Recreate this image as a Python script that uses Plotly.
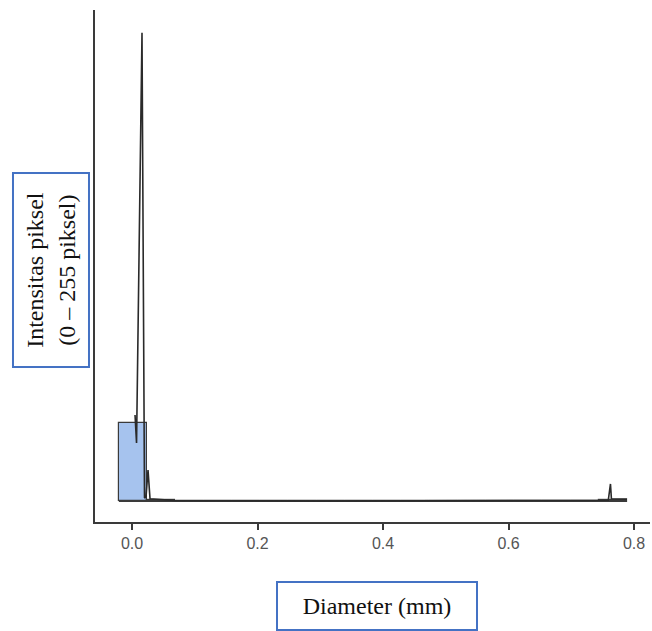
import plotly.graph_objects as go

# Histogram of pore diameters (density scale), bins of 0.045 mm
bin_edges = [-0.021 + 0.045 * i for i in range(19)]
bin_density = [21.5, 0.3, 0, 0, 0, 0, 0, 0, 0, 0, 0, 0, 0, 0, 0, 0, 0, 0.3]

# Kernel density curve of the same sample
dens_x = [0.0048, 0.0072, 0.0159, 0.0199, 0.0223, 0.0255, 0.0287, 0.0685,
          0.300, 0.600, 0.759, 0.7625, 0.7640, 0.789]
dens_y = [23.7, 16.0, 129.0, 0.8, 1.1, 8.5, 0.6, 0.15,
          0.0, 0.0, 0.2, 4.7, 0.6, 0.5]

x_ticks = [0.0, 0.2, 0.4, 0.6, 0.8]
x_tick_text = ["0.0", "0.2", "0.4", "0.6", "0.8"]

centers = [(bin_edges[i] + bin_edges[i + 1]) / 2 for i in range(len(bin_density))]
widths = [bin_edges[i + 1] - bin_edges[i] for i in range(len(bin_density))]

fig = go.Figure()
fig.add_trace(go.Bar(
    x=centers, y=bin_density, width=widths,
    marker=dict(color="#a6c3ee", line=dict(color="#3a3a3a", width=1.2)),
    hoverinfo="skip",
))
# outline of the empty bins along the baseline
fig.add_trace(go.Scatter(
    x=[bin_edges[0], bin_edges[-1]], y=[0, 0], mode="lines",
    line=dict(color="#3a3a3a", width=2), hoverinfo="skip",
))
fig.add_trace(go.Scatter(
    x=dens_x, y=dens_y, mode="lines",
    line=dict(color="#2a2a2a", width=1.6), hoverinfo="skip",
))

fig.update_layout(
    width=652, height=631,
    margin=dict(l=95, r=2, t=10, b=109),
    paper_bgcolor="white", plot_bgcolor="white",
    showlegend=False, bargap=0,
    xaxis=dict(
        range=[-0.059, 0.8255], tickvals=x_ticks, ticktext=x_tick_text,
        showgrid=False, zeroline=False, showline=True,
        linecolor="#3a3a3a", linewidth=1.6,
        ticks="outside", ticklen=6, tickwidth=1.6, tickcolor="#3a3a3a",
        tickfont=dict(family="Liberation Sans, Arial", size=16, color="#555555"),
    ),
    yaxis=dict(
        range=[-5.79, 135.3], showticklabels=False, ticks="",
        showgrid=False, zeroline=False, showline=True,
        linecolor="#3a3a3a", linewidth=1.6,
    ),
    annotations=[
        dict(
            text="Intensitas piksel<br>(0 – 255 piksel)",
            xref="paper", yref="paper",
            x=(51 - 95) / 555, y=(521 - 269.5) / 511,
            xanchor="center", yanchor="middle", textangle=-90,
            showarrow=False, width=190, height=72,
            font=dict(family="Liberation Serif, Times New Roman", size=24, color="#111111"),
            bordercolor="#4472c4", borderwidth=2, borderpad=1,
            bgcolor="white",
        ),
        dict(
            text="Diameter (mm)",
            xref="paper", yref="paper",
            x=(376.5 - 95) / 555, y=(521 - 604.5) / 511,
            xanchor="center", yanchor="middle",
            showarrow=False, width=196, height=44,
            font=dict(family="Liberation Serif, Times New Roman", size=24, color="#111111"),
            bordercolor="#4472c4", borderwidth=2, borderpad=1,
            bgcolor="white",
        ),
    ],
)

fig.write_html("out.html")
